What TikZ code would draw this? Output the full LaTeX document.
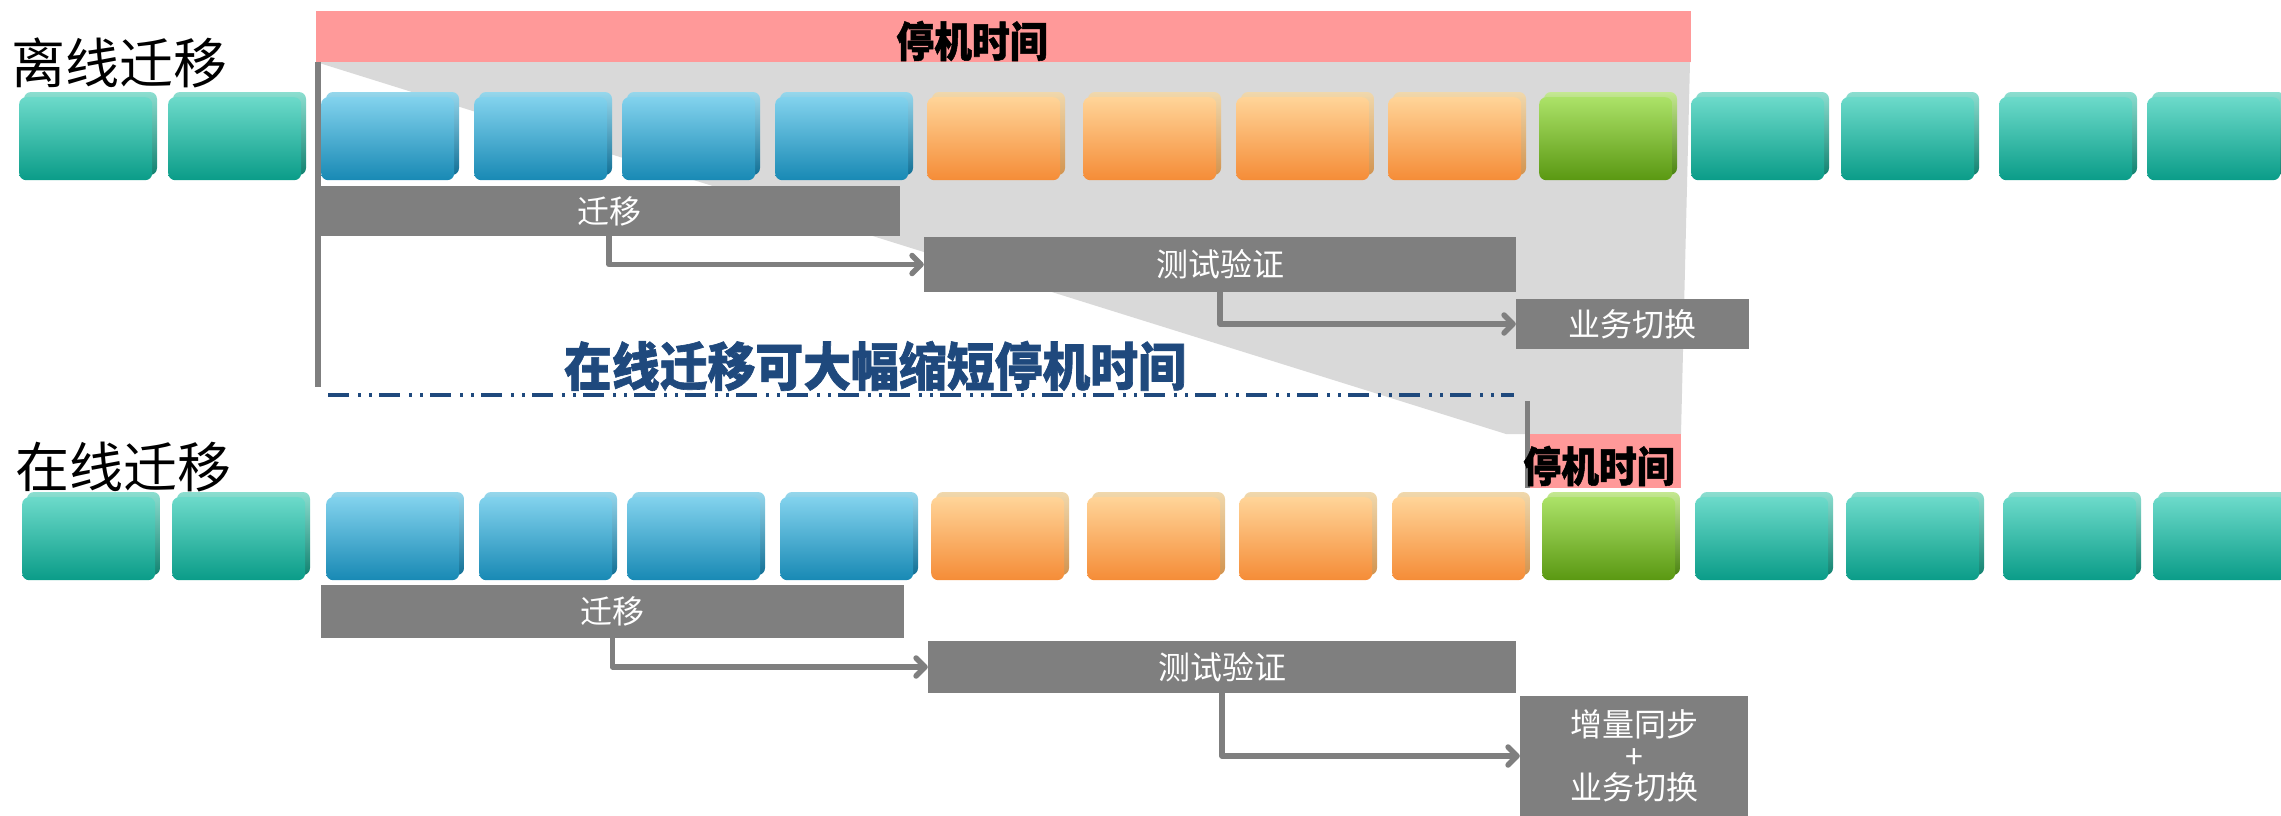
\documentclass[tikz,border=0pt]{standalone}
\usepackage{fontspec}
\setmainfont{Noto Sans CJK SC}
\usetikzlibrary{arrows.meta}
\definecolor{pinkbar}{RGB}{255,153,153}
\definecolor{greyreg}{RGB}{217,217,217}
\definecolor{labelgrey}{RGB}{127,127,127}
\definecolor{navytext}{RGB}{31,73,125}
\definecolor{tealA}{RGB}{108,218,202}
\definecolor{tealB}{RGB}{30,184,160}
\definecolor{tealC}{RGB}{10,156,136}
\definecolor{tealD}{RGB}{140,222,208}
\definecolor{tealE}{RGB}{18,130,112}
\definecolor{blueA}{RGB}{130,210,237}
\definecolor{blueB}{RGB}{52,167,211}
\definecolor{blueC}{RGB}{24,137,180}
\definecolor{blueD}{RGB}{150,215,236}
\definecolor{blueE}{RGB}{18,112,150}
\definecolor{orangeA}{RGB}{255,212,152}
\definecolor{orangeB}{RGB}{251,172,92}
\definecolor{orangeC}{RGB}{245,140,55}
\definecolor{orangeD}{RGB}{240,216,172}
\definecolor{orangeE}{RGB}{210,148,80}
\definecolor{greenA}{RGB}{172,226,104}
\definecolor{greenB}{RGB}{118,188,30}
\definecolor{greenC}{RGB}{90,152,18}
\definecolor{greenD}{RGB}{196,232,146}
\definecolor{greenE}{RGB}{76,132,18}
\tikzset{
  cubeface/.style={rectangle, rounded corners=7pt, minimum width=133pt, minimum height=83pt, inner sep=0pt},
  tealface/.style={top color=tealA, middle color=tealB, bottom color=tealC},
  blueface/.style={top color=blueA, middle color=blueB, bottom color=blueC},
  orangeface/.style={top color=orangeA, middle color=orangeB, bottom color=orangeC},
  greenface/.style={top color=greenA, middle color=greenB, bottom color=greenC},
  tealback/.style={top color=tealD, bottom color=tealE},
  blueback/.style={top color=blueD, bottom color=blueE},
  orangeback/.style={top color=orangeD, bottom color=orangeE},
  greenback/.style={top color=greenD, bottom color=greenE},
  labelbox/.style={fill=labelgrey, text=white, inner sep=0pt, align=center, font=\fontsize{32}{31.5}\selectfont},
  flow/.style={draw=labelgrey, line width=5.5pt, line cap=round, line join=round, -{Straight Barb[length=9pt,width=18pt,round]}},
  downtime/.style={inner sep=0pt, font=\bfseries\fontsize{42}{42}\selectfont\addfontfeature{FakeBold=1.2,FakeStretch=0.9}},
  rowtitle/.style={inner sep=0pt, font=\fontsize{54}{54}\selectfont},
}
\newcommand\blockat[4]{%
  \path[#4back, rounded corners=7pt] (#2+5,#3-5) rectangle ++(133,83);
  \node[cubeface,#4face,anchor=north west] (#1) at (#2,#3) {};
}
\begin{document}
\begin{tikzpicture}[x=1pt,y=-1pt]
\useasboundingbox (0,0) rectangle (2281,816);
\clip (0,0) rectangle (2281,816);
% grey downtime region
\fill[greyreg] (316,62) -- (1690,62) -- (1681,434) -- (1506,434) -- cycle;
% pink bars
\node[fill=pinkbar, minimum width=1375pt, minimum height=51pt, inner sep=0pt, anchor=north west] (bar1) at (316,11) {};
\node[fill=pinkbar, minimum width=151pt, minimum height=54pt, inner sep=0pt, anchor=north west] (bar2) at (1530,434) {};
% vertical marker lines
\draw[labelgrey, line width=5.5pt] (318,62) -- (318,387);
\draw[labelgrey, line width=5pt] (1527,401) -- (1527,488);
% row 1 blocks
\foreach \n/\x/\k in {1/19/teal,2/168/teal,3/321/blue,4/474/blue,5/622/blue,6/775/blue,7/927/orange,8/1083/orange,9/1236/orange,10/1388/orange,11/1539/green,12/1691/teal,13/1841/teal,14/1999/teal,15/2147/teal}{
  \blockat{a\n}{\x}{97}{\k}
}
% row 2 blocks
\foreach \n/\x/\k in {1/22/teal,2/172/teal,3/326/blue,4/479/blue,5/627/blue,6/780/blue,7/931/orange,8/1087/orange,9/1239/orange,10/1392/orange,11/1542/green,12/1695/teal,13/1846/teal,14/2003/teal,15/2153/teal}{
  \blockat{b\n}{\x}{497}{\k}
}
% row 1 steps
\node[labelbox, minimum width=582pt, minimum height=50pt] (mig1) at (609,211) {迁移};
\node[labelbox, minimum width=592pt, minimum height=55pt] (test1) at (1220,264.5) {测试验证};
\node[labelbox, minimum width=233pt, minimum height=50pt] (sw1) at (1632.5,324) {业务切换};
\draw[flow] (mig1.south) |- (test1.west);
\draw[flow] (test1.south) |- (sw1.west);
% row 2 steps
\node[labelbox, minimum width=583pt, minimum height=53pt] (mig2) at (612.5,611.5) {迁移};
\node[labelbox, minimum width=588pt, minimum height=52pt] (test2) at (1222,667) {测试验证};
\node[labelbox, minimum width=228pt, minimum height=120pt] (sw2) at (1634,756) {增量同步\\+\\业务切换};
\draw[flow] (mig2.south) |- (test2.west);
\draw[flow] (test2.south) |- (sw2.west);
% dash-dot separator
\coordinate (sepL) at (328,395);
\coordinate (sepR) at (1514,395);
\draw[navytext, line width=3.5pt, dash pattern=on 21pt off 9pt on 3pt off 8pt on 3pt off 7pt] (sepL) -- (sepR);
% texts
\node[downtime] (dt1) at (972,41) {停机时间};
\node[downtime] (dt2) at (1599,466) {停机时间};
\node[rowtitle] (off) at (120,63) {离线迁移};
\node[rowtitle] (on) at (124,467) {在线迁移};
\node[inner sep=0pt, text=navytext, font=\bfseries\fontsize{52}{52}\selectfont\addfontfeature{FakeBold=1.2,FakeStretch=0.92}] (msg) at (875,366) {在线迁移可大幅缩短停机时间};
\end{tikzpicture}
\end{document}
